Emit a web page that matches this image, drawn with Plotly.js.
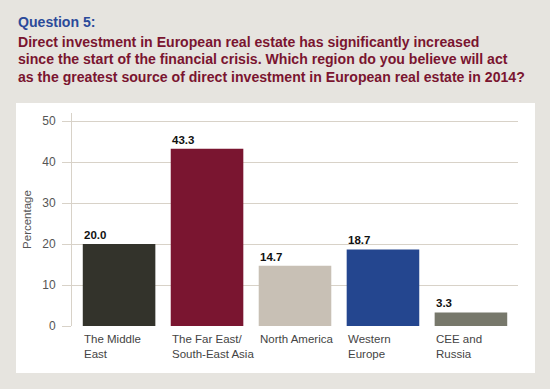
<!DOCTYPE html>
<html><head><meta charset="utf-8">
<script src="https://cdn.plot.ly/plotly-3.0.1.min.js"></script>
<style>html,body{margin:0;padding:0;background:#e6e4df;}</style>
</head><body>
<div id="chart" style="width:550px;height:389px;"></div>
<script>
var categories = ["The Middle East", "The Far East/ South-East Asia", "North America", "Western Europe", "CEE and Russia"];
var tickLabels = ["The Middle<br>East", "The Far East/<br>South-East Asia", "North America", "Western<br>Europe", "CEE and<br>Russia"];
var values = [20.0, 43.3, 14.7, 18.7, 3.3];
var valueLabels = ["20.0", "43.3", "14.7", "18.7", "3.3"];
var barColors = ["#33332b", "#7a1530", "#c8c0b5", "#24468f", "#77786b"];
var titleLines = ["Question 5:",
  "Direct investment in European real estate has significantly increased",
  "since the start of the financial crisis. Which region do you believe will act",
  "as the greatest source of direct investment in European real estate in 2014?"];

var L = 72, R = 518, T = 113, B = 326;
var W = R - L, H = B - T;
function px(x){ return (x - L) / W; }
function py(y){ return (B - y) / H; }

var FONT = 'Liberation Sans, Arial, sans-serif';
var annotations = [];
var titleY = [22, 42, 59, 77];
titleLines.forEach(function(t, i){
  annotations.push({xref:'paper', yref:'paper', x:px(16), y:py(titleY[i]), xanchor:'left', yanchor:'middle',
    text:'<b>'+t+'</b>', showarrow:false, font:{family:FONT, size:14.1, color: i===0 ? '#2b4a9a' : '#7a1530'}});
});
categories.forEach(function(c, i){
  annotations.push({xref:'x', yref:'y', x:c, y:values[i], xanchor:'left', yanchor:'bottom', xshift:-37, yshift:1,
    text:'<b>'+valueLabels[i]+'</b>', showarrow:false, font:{family:FONT, size:11.5, color:'#111'}});
  annotations.push({xref:'x', yref:'paper', x:c, y:py(331), xanchor:'left', yanchor:'top', xshift:-37, align:'left',
    text:tickLabels[i], showarrow:false, font:{family:FONT, size:11.5, color:'#444'}});
});

var trace = {type:'bar', x:categories, y:values, marker:{color:barColors, line:{width:0}}, hoverinfo:'none'};

var layout = {
  width:550, height:389,
  margin:{l:L, r:550-R, t:T, b:389-B, pad:0},
  paper_bgcolor:'#e6e4df', plot_bgcolor:'rgba(0,0,0,0)',
  bargap:0.175,
  showlegend:false,
  xaxis:{type:'category', showticklabels:false, showgrid:false, zeroline:false, showline:false, ticks:'', range:[-0.535, 4.535], fixedrange:true},
  yaxis:{range:[0,52], tickvals:[0,10,20,30,40,50], ticks:'outside', ticklen:9, tickcolor:'#d8d2c8',
    gridcolor:'#d8d2c8', gridwidth:1, showline:true, linecolor:'#d8d2c8', linewidth:1, zeroline:false,
    ticklabelstandoff:4,
    tickfont:{family:FONT, size:12, color:'#555'},
    title:{text:'Percentage', font:{family:FONT, size:11.5, color:'#555'}, standoff:8}},
  shapes:[{type:'rect', xref:'paper', yref:'paper', x0:px(16), x1:px(535), y0:py(373), y1:py(103),
    fillcolor:'#ffffff', line:{width:0}, layer:'below'}],
  annotations:annotations
};
Plotly.newPlot('chart', [trace], layout, {displayModeBar:false, staticPlot:true});
</script>
</body></html>
